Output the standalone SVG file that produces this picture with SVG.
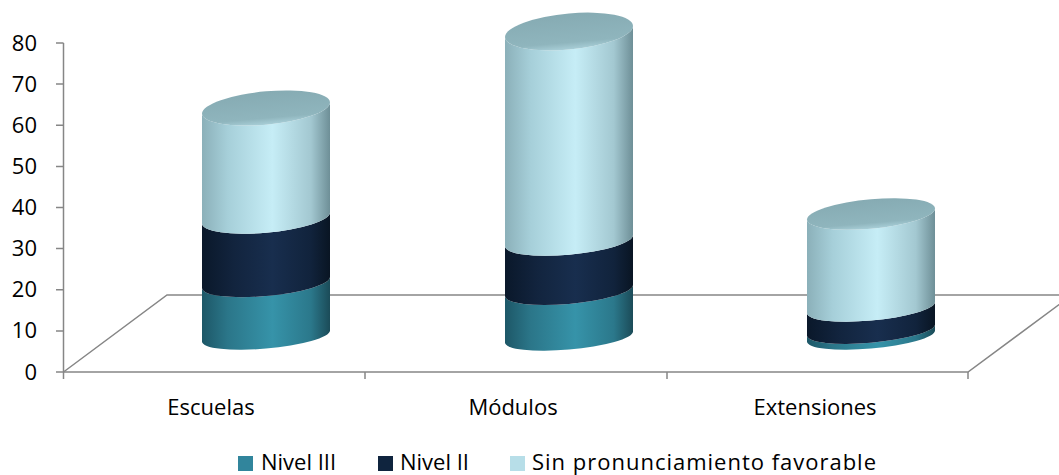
<svg xmlns="http://www.w3.org/2000/svg" width="1059" height="475" viewBox="0 0 1059 475">
<style>
.ax{stroke:#868686;stroke-width:1.5;fill:none}
.t{font-family:"Open Sans","Liberation Sans",Arial,sans-serif;font-size:22px;fill:#000}
.yl{text-anchor:end}
.cl{text-anchor:middle}
</style>
<defs>
<linearGradient id="gTeal" x1="0" y1="0" x2="1" y2="0">
<stop offset="0" stop-color="#1d5767"/><stop offset="0.2" stop-color="#2b7689"/><stop offset="0.55" stop-color="#3693a9"/><stop offset="0.85" stop-color="#2b788b"/><stop offset="1" stop-color="#1b4b58"/>
</linearGradient>
<linearGradient id="gNavy" x1="0" y1="0" x2="1" y2="0">
<stop offset="0" stop-color="#0a182a"/><stop offset="0.25" stop-color="#12243e"/><stop offset="0.55" stop-color="#182e4e"/><stop offset="0.85" stop-color="#11233c"/><stop offset="1" stop-color="#091523"/>
</linearGradient>
<linearGradient id="gLight" x1="0" y1="0" x2="1" y2="0">
<stop offset="0" stop-color="#8bb0b9"/><stop offset="0.2" stop-color="#a6cfd9"/><stop offset="0.55" stop-color="#c6edf6"/><stop offset="0.85" stop-color="#a3c8d1"/><stop offset="1" stop-color="#6e8f97"/>
</linearGradient>
<linearGradient id="gCap" x1="0" y1="0" x2="0" y2="1">
<stop offset="0" stop-color="#86abb3"/><stop offset="0.8" stop-color="#8fb5bd"/><stop offset="1" stop-color="#a8ced7"/>
</linearGradient>
</defs>

<g id="axes">
<path class="ax" d="M63.5,43 V372"/>
<path class="ax" d="M56,43 H63.5 M56,84.1 H63.5 M56,125.3 H63.5 M56,166.4 H63.5 M56,207.5 H63.5 M56,248.6 H63.5 M56,289.8 H63.5 M56,330.9 H63.5 M56,372 H63.5"/>
<path class="ax" d="M63.5,372 L167,295 H1059"/>
<path class="ax" d="M63.5,372 H968 L1072,295"/>
<path class="ax" d="M63.5,372 V379 M365,372 V379 M667,372 V379 M968,372 V379"/>
<text class="t yl" x="37" y="50.5">80</text>
<text class="t yl" x="37" y="91.6">70</text>
<text class="t yl" x="37" y="132.8">60</text>
<text class="t yl" x="37" y="173.9">50</text>
<text class="t yl" x="37" y="215">40</text>
<text class="t yl" x="37" y="256.1">30</text>
<text class="t yl" x="37" y="297.3">20</text>
<text class="t yl" x="37" y="338.4">10</text>
<text class="t yl" x="37" y="379.5">0</text>
<text class="t cl" x="211" y="415">Escuelas</text>
<text class="t cl" x="513" y="415">Módulos</text>
<text class="t cl" x="815" y="415">Extensiones</text>
</g>

<g id="escuelas" transform="translate(266,0) skewY(-5)">
<path fill="url(#gTeal)" d="M-64,282.5 A64,13.6 0 0 0 64,282.5 L64,336 A64,12.6 0 0 1 -64,336 Z"/>
<path fill="url(#gNavy)" d="M-64,218 A64,14.7 0 0 0 64,218 L64,282.5 A64,13.6 0 0 1 -64,282.5 Z"/>
<path fill="url(#gLight)" d="M-64,108 A64,16.7 0 0 0 64,108 L64,218 A64,14.7 0 0 1 -64,218 Z"/>
<ellipse cx="0" cy="108" rx="64" ry="16.7" fill="url(#gCap)"/>
</g>

<g id="modulos" transform="translate(569,0) skewY(-5)">
<path fill="url(#gTeal)" d="M-64,290.5 A64,13.4 0 0 0 64,290.5 L64,337 A64,12.6 0 0 1 -64,337 Z"/>
<path fill="url(#gNavy)" d="M-64,240.5 A64,14.3 0 0 0 64,240.5 L64,290.5 A64,13.4 0 0 1 -64,290.5 Z"/>
<path fill="url(#gLight)" d="M-64,31.5 A64,18.1 0 0 0 64,31.5 L64,240.5 A64,14.3 0 0 1 -64,240.5 Z"/>
<ellipse cx="0" cy="31.5" rx="64" ry="18.1" fill="url(#gCap)"/>
</g>

<g id="extensiones" transform="translate(871,0) skewY(-5)">
<path fill="url(#gTeal)" d="M-64,330 A64,12.7 0 0 0 64,330 L64,336 A64,12.6 0 0 1 -64,336 Z"/>
<path fill="url(#gNavy)" d="M-64,307.5 A64,13.1 0 0 0 64,307.5 L64,330 A64,12.7 0 0 1 -64,330 Z"/>
<path fill="url(#gLight)" d="M-64,214 A64,14.8 0 0 0 64,214 L64,307.5 A64,13.1 0 0 1 -64,307.5 Z"/>
<ellipse cx="0" cy="214" rx="64" ry="14.8" fill="url(#gCap)"/>
</g>

<g id="legend">
<rect x="238" y="456" width="15" height="15" fill="#31859c"/>
<text class="t" x="261" y="469.5">Nivel III</text>
<rect x="378" y="456" width="15" height="15" fill="#0f243e"/>
<text class="t" x="400" y="469.5">Nivel II</text>
<rect x="510" y="456" width="15" height="15" fill="#b7dee8"/>
<text class="t" x="532" y="469.5" textLength="344" lengthAdjust="spacing">Sin pronunciamiento favorable</text>
</g>
</svg>
